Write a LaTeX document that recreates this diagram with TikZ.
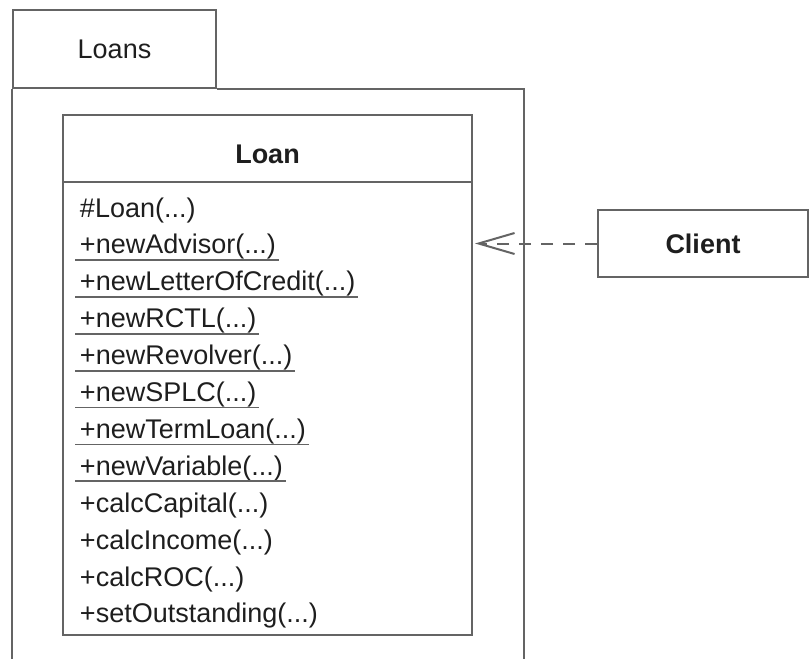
\documentclass[tikz,border=0pt]{standalone}
\usepackage{fontspec}
\setmainfont{Liberation Sans}
\usetikzlibrary{arrows.meta,positioning,calc}
\definecolor{trait}{RGB}{100,100,100}
\definecolor{encre}{RGB}{30,30,30}
\newcommand{\args}{(...)}

\begin{document}
\begin{tikzpicture}[x=0.5pt,y=-0.5pt,line width=1pt,
  font=\fontsize{13.5}{16}\selectfont,
  boite/.style={draw=trait,inner sep=0pt},
  titre/.style={text=encre,font=\fontsize{13.5}{16}\selectfont\bfseries},
  membre/.style={anchor=base west,inner sep=0pt,text=encre},
  souligne/.style={draw=trait,line width=0.9pt}]
  \useasboundingbox (0,0) rectangle (811,659);
  \clip (0,0) rectangle (811,659);

  % paquetage Loans
  \node[boite,anchor=north west,minimum width=101.5pt,minimum height=39pt] (onglet) at (12,9) {};
  \node[text=encre] (nomPaquet) at (onglet.center) {Loans};
  \draw[trait] (onglet.south west) -- (12,700)
               (onglet.south east) -| (524,700);

  % classe Loan
  \node[boite,anchor=north west,minimum width=204.5pt,minimum height=260pt] (classe) at (62,114) {};
  \draw[trait] ([yshift=-34pt]classe.north west) -- ([yshift=-34pt]classe.north east);
  \node[titre] (nomClasse) at ($(classe.north)+(0,40)$) {Loan};

  \foreach \txt [count=\k from 0] in {\#Loan,+newAdvisor,+newLetterOfCredit,
      +newRCTL,+newRevolver,+newSPLC,+newTermLoan,+newVariable,
      +calcCapital,+calcIncome,+calcROC,+setOutstanding}
    \node[membre] (m\k) at (79,{217+36.9*\k}) {\txt\args};
  \foreach \k in {1,...,7}
    \draw[souligne] ($(m\k.base west)+(-4,6)$) -- ($(m\k.base east)+(2,6)$);

  % client
  \node[boite,titre,minimum width=105pt,minimum height=33.5pt] (client) at (703,243.5) {Client};
  \draw[trait,dash pattern=on 6pt off 5pt,-{Straight Barb[length=18pt,width=10.5pt]}]
    (client.west) -- ([xshift=1pt]classe.east |- client.west);
\end{tikzpicture}
\end{document}
